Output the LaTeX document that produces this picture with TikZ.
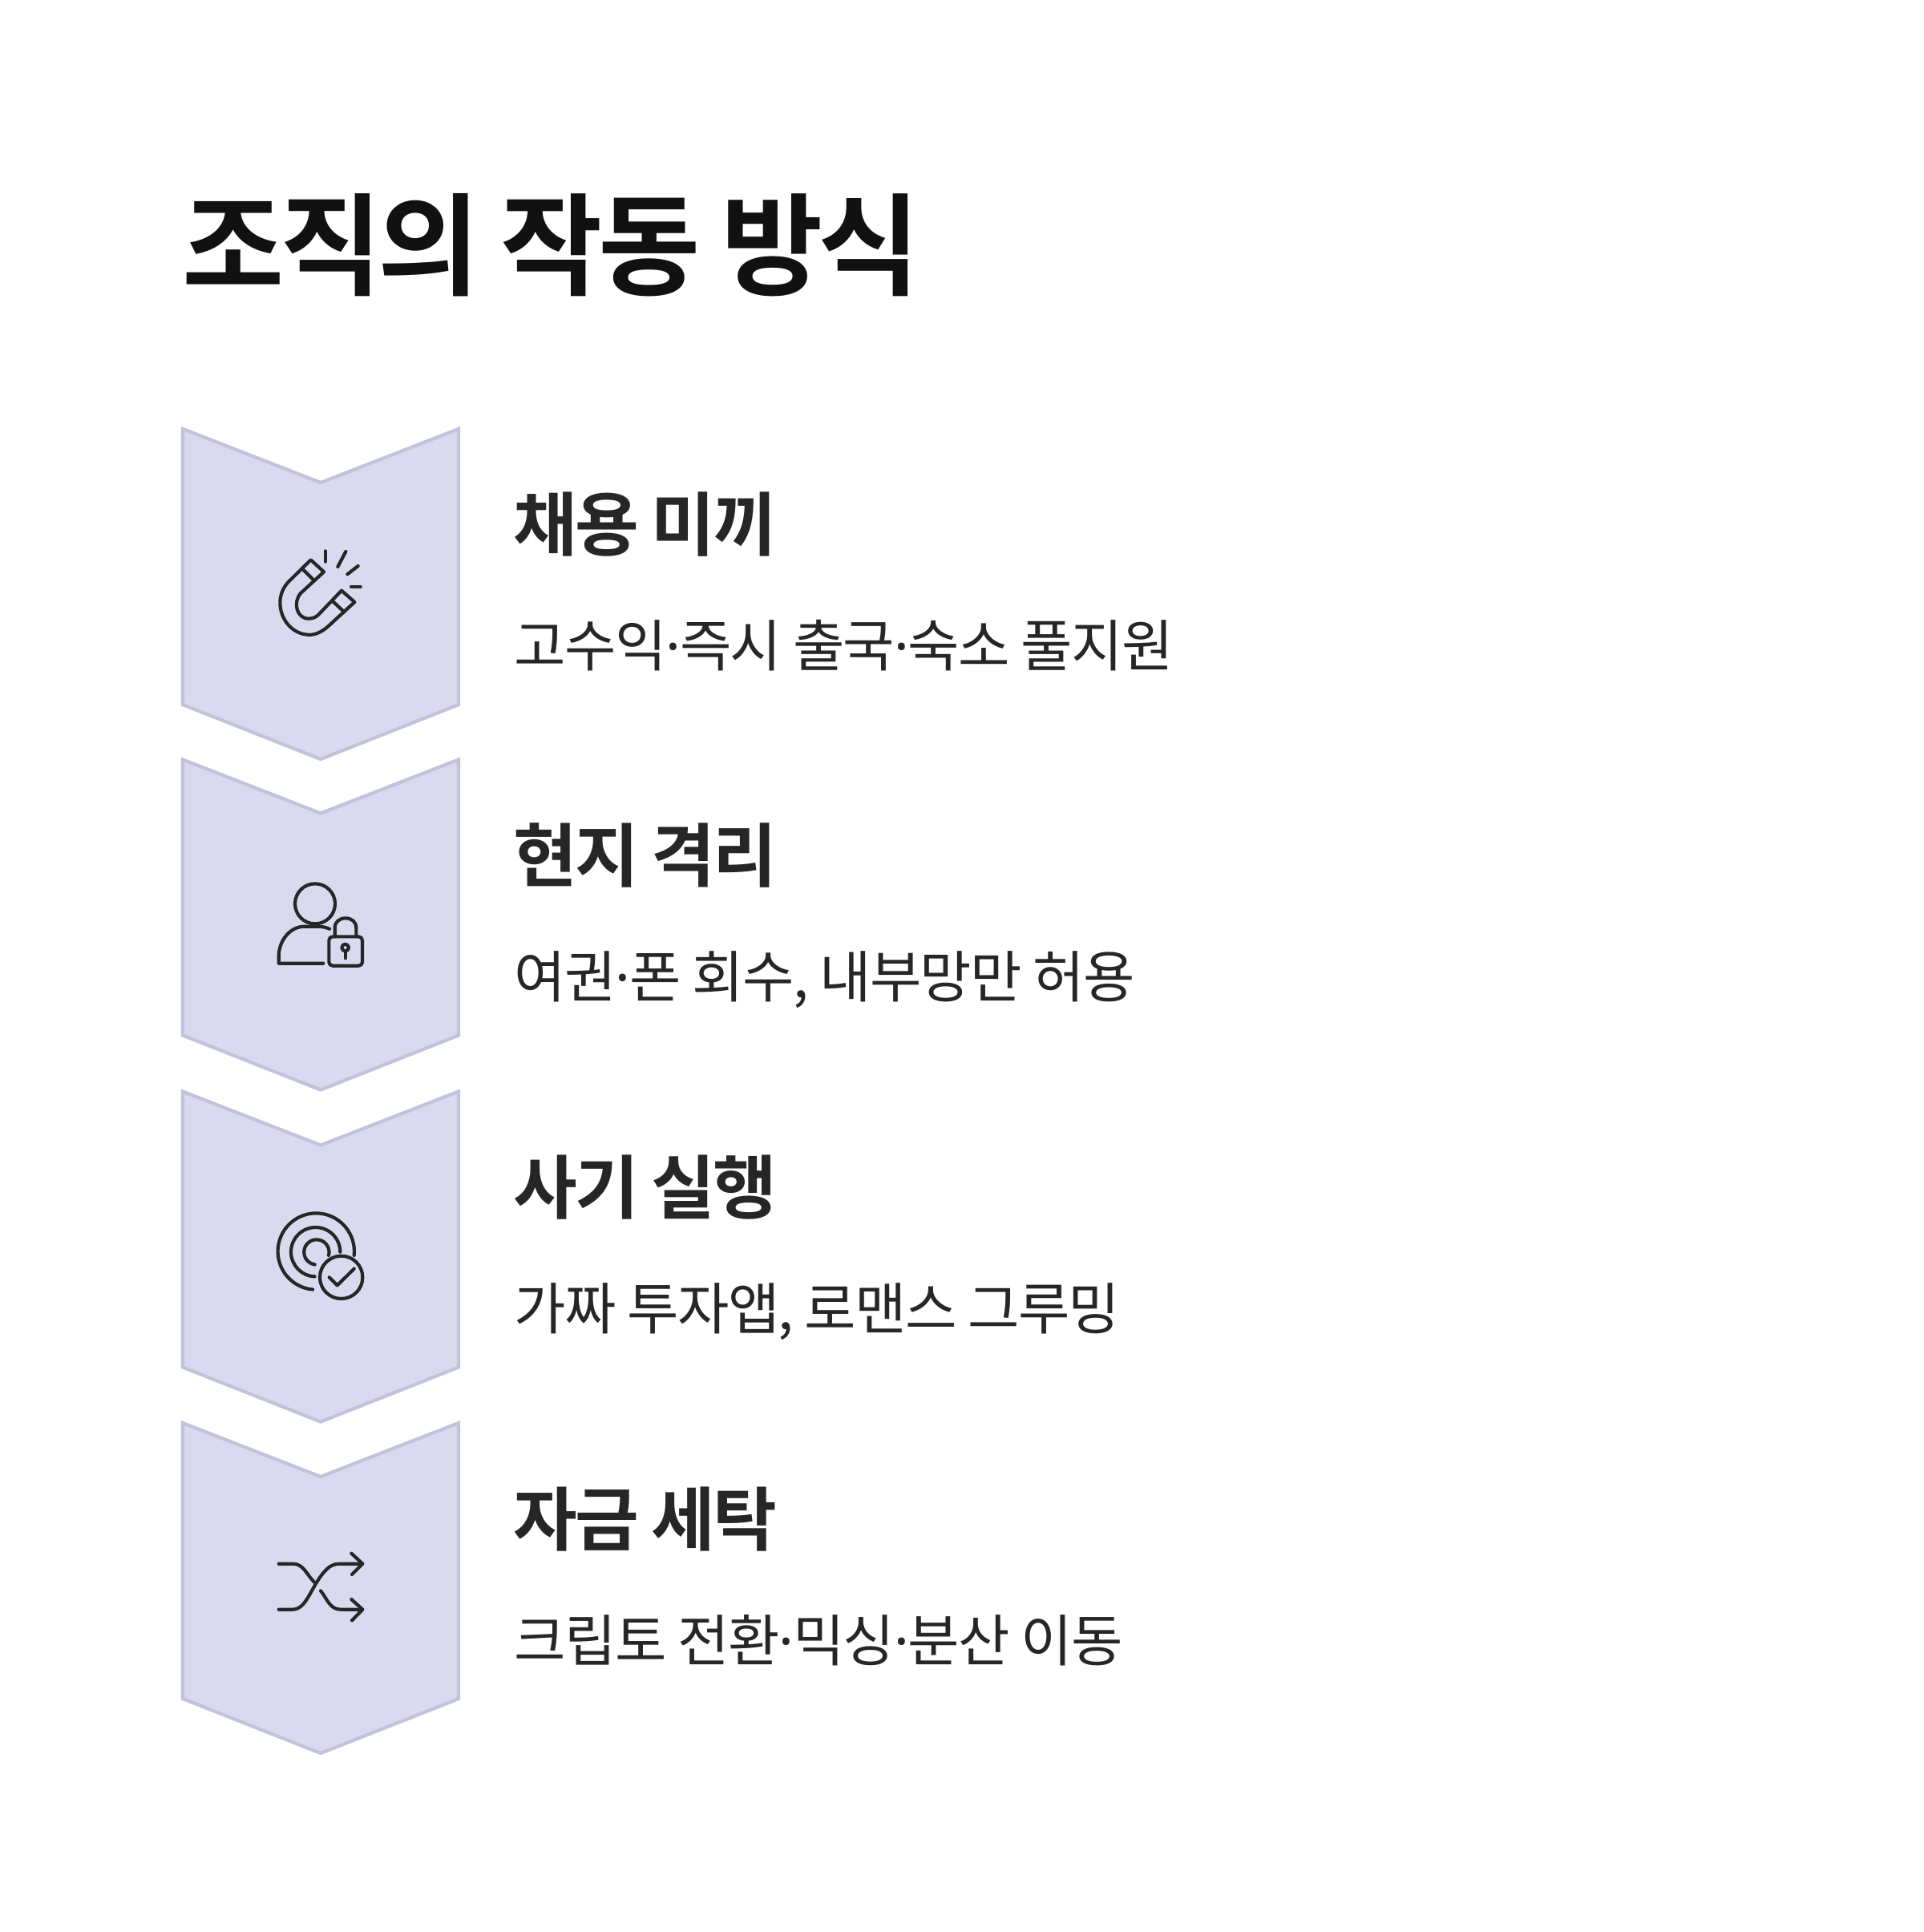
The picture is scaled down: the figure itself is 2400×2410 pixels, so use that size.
\documentclass[tikz,border=0pt]{standalone}
\usepackage{fontspec}
\newfontfamily\krB[LetterSpace=-4]{Noto Sans CJK KR Bold}
\newfontfamily\krH[LetterSpace=-4]{Noto Sans CJK KR Bold}
\newfontfamily\krR[LetterSpace=-2.5]{Noto Sans CJK KR}
\newfontfamily\dotfont{Noto Sans}
\newcommand{\md}{\kern-0.3pt{\dotfont ·}\kern-0.3pt}
\definecolor{chevfill}{HTML}{D9D9F0}
\definecolor{chevline}{HTML}{C2C2DA}
\definecolor{ink}{HTML}{262626}
\definecolor{titleink}{HTML}{111111}
\tikzset{
  chev/.style={fill=chevfill,draw=chevline,line width=1.25pt,line join=miter},
  ico/.style={draw=ink,line width=1.25pt,line cap=round,line join=round,fill=none},
  titletxt/.style={anchor=base west,inner sep=0pt,text=titleink,font=\krB\fontsize{41.5}{48}\selectfont},
  headtxt/.style={anchor=base west,inner sep=0pt,text=ink,font=\krH\fontsize{26}{32}\selectfont},
  desctxt/.style={anchor=base west,inner sep=0pt,text=ink,font=\krR\fontsize{21}{26}\selectfont},
  zoomed/.style={shift={#1},x=0.1pt,y=-0.1pt}
}
\newcommand{\chevron}[1]{\draw[chev,shift={(0,#1)}] (228,0) -- (400,67) -- (572,0) -- (572,344) -- (400,412) -- (228,344) -- cycle;}
\begin{document}
\begin{tikzpicture}[x=0.3pt,y=-0.3pt]
\useasboundingbox (0,0) rectangle (2400,2410);
\fill[white] (0,0) rectangle (2400,2410);
\node[titletxt] (title) at (227,357) {조직의 작동 방식};
\chevron{535}\chevron{947.5}\chevron{1361.5}\chevron{1775}
% magnet
\begin{scope}[zoomed={(300,650)}]
\draw[ico] (263,145) -- (312,190) -- (225,270) .. controls (195,305) and (210,365) .. (255,365) .. controls (270,365) and (282,360) .. (292,350) -- (378,260) -- (427,303) -- (330,392) .. controls (300,420) and (270,428) .. (250,425) .. controls (190,420) and (148,365) .. (148,305) .. controls (148,270) and (165,240) .. (185,222) -- cycle;
\draw[ico] (233,180) -- (275,222);
\draw[ico] (345,300) -- (388,340);
\draw[ico] (318,112) -- (318,152);
\draw[ico] (394,114) -- (364,171);
\draw[ico] (440,168) -- (400,199);
\draw[ico] (414,245) -- (449,245);
\end{scope}
% person with lock
\begin{scope}[zoomed={(300,1070)}]
\draw[ico] (279,172) circle[radius=75];
\draw[ico] (333,266) .. controls (315,258) and (300,257) .. (280,257) -- (240,257) .. controls (185,257) and (143,310) .. (143,370) -- (143,395) -- (310,395);
\draw[ico] (345,295) -- (442,295) .. controls (450,295) and (456,301) .. (456,309) -- (456,390) .. controls (456,398) and (450,404) .. (442,404) -- (345,404) .. controls (337,404) and (331,398) .. (331,390) -- (331,309) .. controls (331,301) and (337,295) .. (345,295) -- cycle;
\draw[ico] (353,295) -- (353,262) .. controls (353,240) and (370,226) .. (393,226) .. controls (416,226) and (433,240) .. (433,262) -- (433,295);
\draw[ico] (392,336) circle[radius=13];
\draw[ico] (392,350) -- (392,376);
\end{scope}
% target
\begin{scope}[zoomed={(300,1490)}]
\draw[ico] (425,228) arc[start angle=6,end angle=-265,radius=143];
\draw[ico] (373,215) arc[start angle=0,end angle=-268,radius=92];
\draw[ico] (330,228) arc[start angle=15,end angle=-262,radius=47];
\draw[ico] (377,310) circle[radius=80];
\draw[ico] (332,310) -- (362,340) -- (425,278);
\end{scope}
% shuffle
\begin{scope}[zoomed={(300,1900)}]
\draw[ico] (143,152) -- (195,152) .. controls (235,152) and (245,188) .. (275,220);
\draw[ico] (143,323) -- (195,323) .. controls (250,323) and (265,230) .. (320,175) .. controls (340,155) and (355,152) .. (375,152) -- (455,152);
\draw[ico] (415,113) -- (457,152) -- (417,192);
\draw[ico] (300,253) .. controls (325,285) and (335,323) .. (375,323) -- (455,323);
\draw[ico] (415,285) -- (457,323) -- (417,364);
\end{scope}
\node[headtxt] (h1) at (640,686) {채용 미끼};
\node[desctxt] (d1) at (641,831) {고수익\md 즉시 출국\md 숙소 풀지원};
\node[headtxt] (h2) at (640,1099) {현지 격리};
\node[desctxt] (d2) at (641,1244) {여권\md 폰 회수, 내부망만 허용};
\node[headtxt] (h3) at (640,1513) {사기 실행};
\node[desctxt] (d3) at (641,1658) {가짜 투자앱, 로맨스 그루밍};
\node[headtxt] (h4) at (640,1927) {자금 세탁};
\node[desctxt] (d4) at (641,2072) {크립토 전환\md 믹싱\md 분산 이동};
\end{tikzpicture}
\end{document}
